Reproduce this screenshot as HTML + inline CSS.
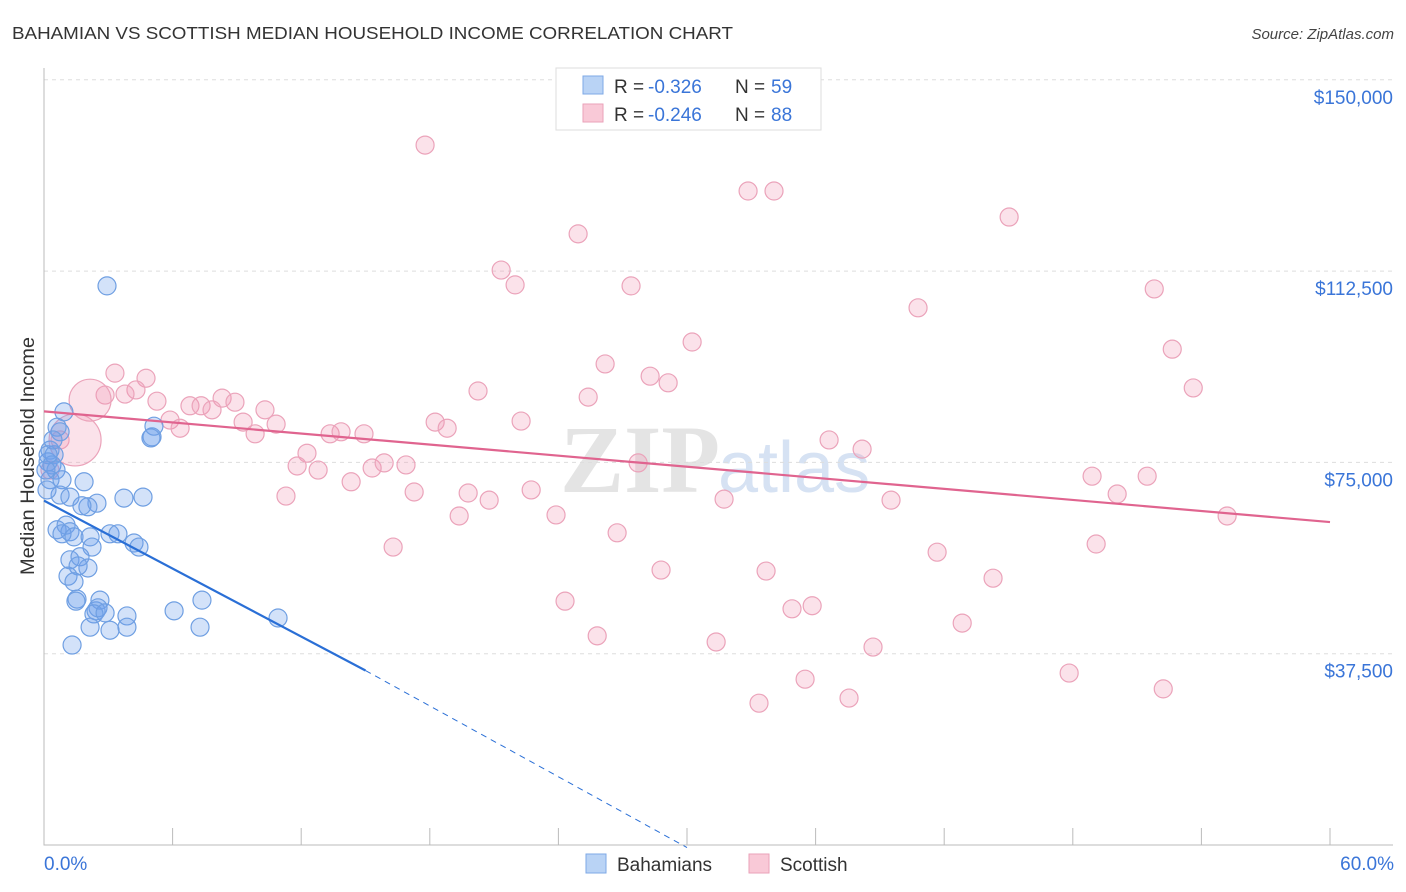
<!DOCTYPE html>
<html><head><meta charset="utf-8"><style>
body{margin:0;background:#fff;font-family:"Liberation Sans",sans-serif}
svg{display:block}
</style></head><body>
<svg id="chart" width="1406" height="892">
<text x="12" y="39" font-size="17.5" fill="#333" textLength="721" lengthAdjust="spacingAndGlyphs">BAHAMIAN VS SCOTTISH MEDIAN HOUSEHOLD INCOME CORRELATION CHART</text>
<text x="1394" y="39" font-size="15" fill="#444" font-style="italic" text-anchor="end">Source: ZipAtlas.com</text>
<text x="720" y="492" font-size="96" fill="#e4e4e4" text-anchor="end" font-family="Liberation Serif" font-weight="bold">ZIP</text>
<text x="718" y="492" font-size="72" fill="#d6e2f3">atlas</text>
<g id="grid"></g><g id="axes"></g><g id="pts"></g><g id="lines"></g>
<text transform="translate(34,456) rotate(-90)" font-size="19" fill="#333" text-anchor="middle" textLength="238" lengthAdjust="spacingAndGlyphs">Median Household Income</text>
<g>
<rect x="556" y="68" width="265" height="62" fill="#fff" stroke="#ddd"/>
<rect x="583" y="76" width="20" height="18" fill="#b9d3f5" stroke="#7ea8e6"/>
<rect x="583" y="104" width="20" height="18" fill="#f9c9d7" stroke="#eaa2b9"/>
<text x="614" y="93" font-size="19" fill="#333">R =</text>
<text x="648" y="93" font-size="19" fill="#3a75d8">-0.326</text>
<text x="735" y="93" font-size="19" fill="#333">N =</text>
<text x="771" y="93" font-size="19" fill="#3a75d8">59</text>
<text x="614" y="121" font-size="19" fill="#333">R =</text>
<text x="648" y="121" font-size="19" fill="#3a75d8">-0.246</text>
<text x="735" y="121" font-size="19" fill="#333">N =</text>
<text x="771" y="121" font-size="19" fill="#3a75d8">88</text>
</g>
<g>
<rect x="586" y="854" width="20" height="19" fill="#b9d3f5" stroke="#7ea8e6"/>
<text x="617" y="871" font-size="19" fill="#333">Bahamians</text>
<rect x="749" y="854" width="20" height="19" fill="#f9c9d7" stroke="#eaa2b9"/>
<text x="780" y="871" font-size="19" fill="#333">Scottish</text>
</g>
<text x="44" y="870" font-size="19" fill="#3a75d8">0.0%</text>
<text x="1394" y="870" font-size="19" fill="#3a75d8" text-anchor="end">60.0%</text>
</svg>
<script>
const yTicks=[37500,75000,112500,150000];
const yTickLabels=["$37,500","$75,000","$112,500","$150,000"];
const blueX=[2.94,0.93,0.61,0.75,5.04,5.13,4.99,0.28,0.47,0.19,0.37,0.56,0.28,0.84,1.87,0.75,1.21,2.47,2.05,3.73,4.62,1.77,0.61,1.03,1.21,0.84,1.40,2.15,3.08,3.45,4.20,4.43,2.24,1.21,1.68,2.05,1.59,1.12,1.40,1.54,1.49,2.61,2.43,2.52,2.33,2.85,3.87,6.07,7.37,2.15,3.08,3.87,7.28,10.92,1.31,0.19,0.09,0.42,0.14];
const blueY=[109.6,84.9,81.9,81.0,80.0,82.1,79.8,77.4,76.5,75.1,74.5,73.5,71.6,71.6,71.2,68.6,68.2,67.0,66.3,68.0,68.2,66.5,61.8,62.7,61.4,61.0,60.4,60.4,61.0,61.0,59.2,58.4,58.4,55.9,56.5,54.3,54.7,52.7,51.6,48.2,47.8,48.0,45.9,46.5,45.3,45.5,44.9,45.9,48.0,42.7,42.1,42.7,42.7,44.5,39.2,76.5,73.5,79.4,69.6];
const pinkX=[17.78,32.85,34.06,45.03,24.92,21.33,21.98,27.39,51.80,40.78,30.24,52.64,26.18,3.31,4.76,4.29,28.28,29.12,20.25,53.62,2.85,3.78,5.27,6.81,7.33,8.31,7.84,8.91,10.31,5.88,6.35,9.29,10.83,9.85,18.25,18.81,22.26,25.39,13.35,13.86,14.93,36.63,38.17,12.27,11.81,12.79,14.33,15.31,15.87,16.89,27.72,48.90,51.47,11.29,17.27,19.79,20.77,22.73,31.73,39.52,50.07,19.37,23.89,55.20,26.74,16.29,49.09,41.67,28.79,33.69,44.28,24.31,34.90,35.84,42.84,25.81,31.36,38.68,47.83,35.51,52.22,33.36,37.56,0.75,0.28,1.45,2.15];
const pinkY=[137.2,128.2,128.2,123.1,119.8,112.7,109.8,109.6,109.0,105.3,98.6,97.2,94.3,92.5,91.5,89.2,91.9,90.6,89.0,89.6,88.2,88.4,87.0,86.1,86.1,87.6,85.3,86.8,85.3,83.3,81.7,82.9,82.5,80.6,82.9,81.7,83.1,87.8,80.6,81.0,80.6,79.4,77.6,76.8,74.3,73.5,71.2,73.9,74.9,74.5,74.9,72.3,72.3,68.4,69.2,69.0,67.6,69.6,67.8,67.6,68.8,64.5,64.7,64.5,61.2,58.4,59.0,57.4,53.9,53.7,52.3,47.8,46.3,46.9,43.5,41.0,39.8,38.8,33.7,32.5,30.6,27.8,28.8,79.4,73.5,79.4,87.2];
const pinkBig=[0,0,0,0,0,0,0,0,0,0,0,0,0,0,0,0,0,0,0,0,0,0,0,0,0,0,0,0,0,0,0,0,0,0,0,0,0,0,0,0,0,0,0,0,0,0,0,0,0,0,0,0,0,0,0,0,0,0,0,0,0,0,0,0,0,0,0,0,0,0,0,0,0,0,0,0,0,0,0,0,0,0,0,0,0,26,21];
const blueLine=[0,67.5,15,34.2,30,-0.5];
const pinkLine=[0,85.0,60,63.3];
const NS="http://www.w3.org/2000/svg";
const X=p=>44+p*(1286/60);
const Y=k=>845-k*1000*(191.3/37500);
function mk(t,a,par){const e=document.createElementNS(NS,t);for(const k in a)e.setAttribute(k,a[k]);document.getElementById(par).appendChild(e);return e;}
yTicks.forEach((v,i)=>{
 const l=mk('line',{x1:44,x2:1393,y1:Y(v/1000),y2:Y(v/1000),stroke:'#ddd','stroke-dasharray':'4,4'},'grid');
 
 
 const t=mk('text',{x:1393,y:Y(v/1000)+24,'font-size':19,fill:'#3a75d8','text-anchor':'end'},'grid');
 t.textContent=yTickLabels[i];
 
 
});
const ax=mk('path',{d:'M44 68V845H1393',fill:'none',stroke:'#bbb'},'axes');


for(let i=1;i<=10;i++){const t=mk('line',{x1:X(i*6),x2:X(i*6),y1:828,y2:845,stroke:'#bbb'},'axes');
 
 }
pinkX.forEach((x,i)=>{const r=pinkBig[i]||9;const c=mk('circle',{cx:X(x),cy:Y(pinkY[i]),r:r,fill:'rgba(242,150,180,0.28)',stroke:'#eba3ba','stroke-width':1.2},'pts');
 
 });
blueX.forEach((x,i)=>{const c=mk('circle',{cx:X(x),cy:Y(blueY[i]),r:9,fill:'rgba(110,160,235,0.3)',stroke:'#6f9fe2','stroke-width':1.2},'pts');
 
 });
let l=mk('line',{x1:X(pinkLine[0]),y1:Y(pinkLine[1]),x2:X(pinkLine[2]),y2:Y(pinkLine[3]),stroke:'#e0648f','stroke-width':2.2},'lines');


l=mk('line',{x1:X(blueLine[0]),y1:Y(blueLine[1]),x2:X(blueLine[2]),y2:Y(blueLine[3]),stroke:'#2a6fd6','stroke-width':2.2},'lines');


l=mk('line',{x1:X(blueLine[2]),y1:Y(blueLine[3]),x2:X(blueLine[4]),y2:Y(blueLine[5]),stroke:'#2a6fd6','stroke-width':1,'stroke-dasharray':'6,5'},'lines');


</script>
</body></html>
